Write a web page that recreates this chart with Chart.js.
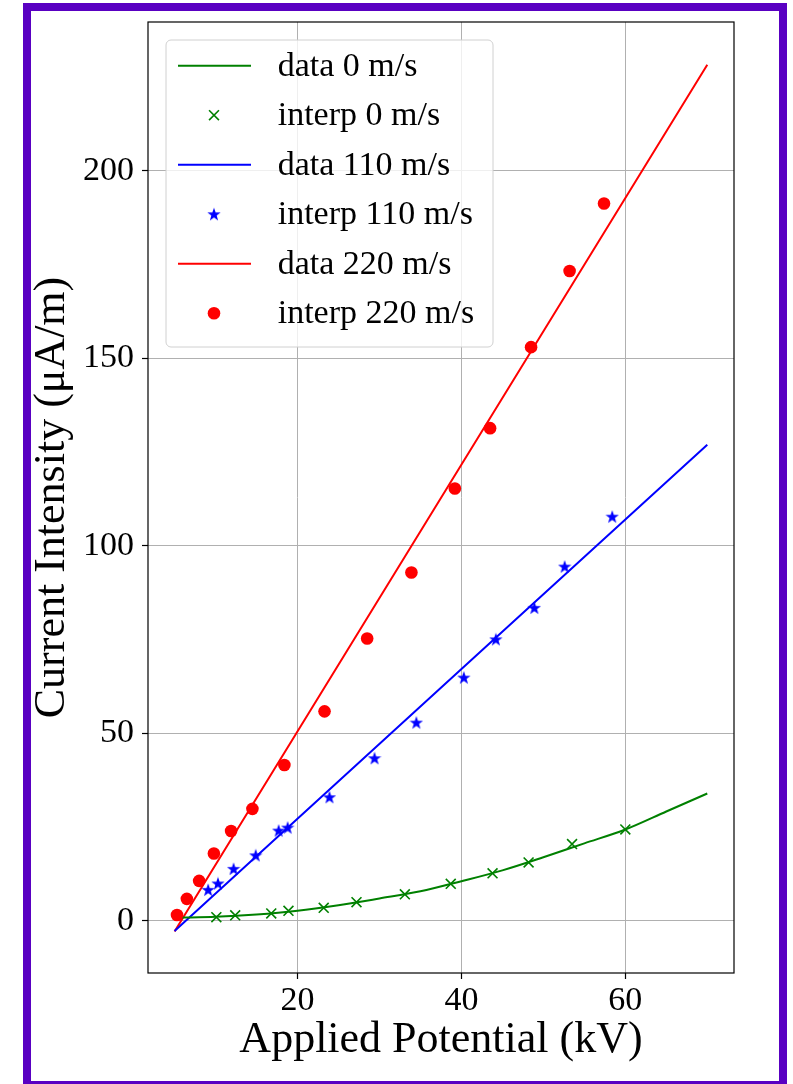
<!DOCTYPE html>
<html>
<head>
<meta charset="utf-8">
<script src="https://cdn.jsdelivr.net/npm/chart.js@4.4.1/dist/chart.umd.min.js"></script>
<style>
  html, body { margin: 0; padding: 0; background: #fff; overflow: hidden; }
  #wrap { position: absolute; left: 0; top: 0; width: 793px; height: 1084px; }
  #frame { position: absolute; left: 23px; top: 3px; width: 764px; height: 1086px;
           box-sizing: border-box; border: 8px solid #5900c2; pointer-events: none; }
</style>
</head>
<body>
<div id="wrap"><canvas id="chart"></canvas></div>
<div id="frame"></div>
<script>
// "data" curves (kV -> uA/m)
const lineX0 = [5.5, 10, 15, 20, 25, 30, 35, 40, 45, 50, 55, 60, 65, 70];
const lineY0 = [0.9, 1.1, 1.7, 2.7, 4.2, 6.0, 7.9, 10.6, 13.5, 17.0, 20.7, 24.4, 29.2, 34.0];
const lineX110 = [5, 37.5, 70];
const lineY110 = [-2.7, 62.2, 127.0];
const lineX220 = [5, 37.5, 70];
const lineY220 = [-2.8, 112.8, 228.3];

// "interp" points
const ptX0 = [10.1, 12.4, 16.8, 18.9, 23.2, 27.2, 33.1, 38.7, 43.8, 48.2, 53.5, 60.0];
const ptY0 = [1.0, 1.5, 2.0, 2.7, 3.5, 5.0, 7.1, 9.9, 12.7, 15.6, 20.5, 24.4];
const ptX110 = [9.1, 10.3, 12.2, 14.9, 17.7, 18.8, 23.9, 29.4, 34.5, 40.3, 44.2, 48.9, 52.6, 58.4];
const ptY110 = [8.3, 10.0, 13.9, 17.5, 24.1, 24.9, 33.0, 43.4, 52.9, 64.9, 75.1, 83.5, 94.5, 107.8];
const ptX220 = [5.3, 6.5, 8.0, 9.8, 11.9, 14.5, 18.4, 23.3, 28.5, 33.9, 39.2, 43.5, 48.5, 53.2, 57.4];
const ptY220 = [1.6, 5.9, 10.7, 18.0, 24.0, 29.9, 41.6, 55.9, 75.3, 92.9, 115.3, 131.4, 153.0, 173.3, 191.3];

const xTicks = [20, 40, 60];
const yTicks = [0, 50, 100, 150, 200];

const FONT = "'Liberation Serif', 'Times New Roman', serif";
const GREEN = "#008000", BLUE = "#0000ff", RED = "#ff0000";

const pairs = (xs, ys) => xs.map((x, i) => ({ x: x, y: ys[i] }));

function makeStar(size, color) {
  const c = document.createElement("canvas");
  c.width = size;
  c.height = size;
  const g = c.getContext("2d");
  const R = size / 2, r = R * 0.4;
  g.beginPath();
  for (let i = 0; i < 10; i++) {
    const a = -Math.PI / 2 + i * Math.PI / 5;
    const rad = i % 2 ? r : R;
    g.lineTo(R + rad * Math.cos(a), R + 0.5 + rad * Math.sin(a));
  }
  g.closePath();
  g.fillStyle = color;
  g.fill();
  return c;
}
const star = makeStar(14, BLUE);

const lineSet = (label, xs, ys, color, smooth) => ({
  label: label,
  data: pairs(xs, ys),
  showLine: true,
  borderColor: color,
  backgroundColor: color,
  borderWidth: 2,
  pointRadius: 0,
  cubicInterpolationMode: smooth ? "monotone" : "default",
  order: 2
});

const pointSet = (label, xs, ys, color, style, radius, bw) => ({
  label: label,
  data: pairs(xs, ys),
  showLine: false,
  borderColor: color,
  backgroundColor: color,
  pointStyle: style,
  pointRadius: radius,
  pointBorderWidth: bw,
  order: 1
});

// axes frame + matplotlib-like legend
const extras = {
  id: "extras",
  afterDraw(chart) {
    const ctx = chart.ctx;
    const a = chart.chartArea;
    ctx.save();
    ctx.strokeStyle = "#000";
    ctx.lineWidth = 1.2;
    ctx.strokeRect(a.left, a.top, a.right - a.left, a.bottom - a.top);

    ctx.beginPath();
    ctx.roundRect(166, 40, 327, 307, 5);
    ctx.fillStyle = "rgba(255,255,255,0.8)";
    ctx.fill();
    ctx.strokeStyle = "#d0d0d0";
    ctx.lineWidth = 1;
    ctx.stroke();

    ctx.font = "34px " + FONT;
    ctx.textBaseline = "middle";
    ctx.textAlign = "left";
    chart.data.datasets.forEach((ds, i) => {
      const y = 65.7 + i * 49.5;
      ctx.strokeStyle = ds.borderColor;
      ctx.fillStyle = ds.backgroundColor;
      if (ds.showLine) {
        ctx.lineWidth = ds.borderWidth;
        ctx.beginPath();
        ctx.moveTo(178, y);
        ctx.lineTo(251, y);
        ctx.stroke();
      } else {
        ctx.lineWidth = ds.pointBorderWidth;
        Chart.helpers.drawPoint(ctx, {
          pointStyle: ds.pointStyle, rotation: 0,
          radius: ds.pointRadius, borderWidth: ds.pointBorderWidth
        }, 214, y);
      }
      ctx.fillStyle = "#000";
      ctx.fillText(ds.label, 277.7, y + 1);
    });
    ctx.restore();
  }
};

new Chart(document.getElementById("chart"), {
  type: "scatter",
  plugins: [extras],
  data: {
    datasets: [
      lineSet("data 0 m/s", lineX0, lineY0, GREEN, true),
      pointSet("interp 0 m/s", ptX0, ptY0, GREEN, "crossRot", 7, 1.6),
      lineSet("data 110 m/s", lineX110, lineY110, BLUE, false),
      pointSet("interp 110 m/s", ptX110, ptY110, BLUE, star, 7, 1),
      lineSet("data 220 m/s", lineX220, lineY220, RED, false),
      pointSet("interp 220 m/s", ptX220, ptY220, RED, "circle", 6.3, 0)
    ]
  },
  options: {
    responsive: true,
    maintainAspectRatio: false,
    animation: false,
    layout: { padding: { top: 22, right: 59, left: 0, bottom: 0 } },
    plugins: { legend: { display: false }, tooltip: { enabled: false } },
    scales: {
      x: {
        type: "linear",
        min: 1.76,
        max: 73.26,
        afterBuildTicks: (s) => { s.ticks = xTicks.map((v) => ({ value: v })); },
        afterFit: (s) => { s.height = 111; s.paddingLeft = 0; s.paddingRight = 0; },
        border: { display: false },
        grid: { color: "#b0b0b0", lineWidth: 1, tickColor: "#000", tickLength: 6, tickWidth: 1.2 },
        ticks: { color: "#000", font: { family: FONT, size: 34 }, padding: 2 },
        title: {
          display: true, text: "Applied Potential (kV)", color: "#000",
          font: { family: FONT, size: 44, lineHeight: 1 }, padding: { top: 0, bottom: 22 }
        }
      },
      y: {
        type: "linear",
        min: -13.87,
        max: 239.7,
        afterBuildTicks: (s) => { s.ticks = yTicks.map((v) => ({ value: v })); },
        afterFit: (s) => { s.width = 148; s.paddingTop = 0; s.paddingBottom = 0; },
        border: { display: false },
        grid: { color: "#b0b0b0", lineWidth: 1, tickColor: "#000", tickLength: 6, tickWidth: 1.2 },
        ticks: { color: "#000", font: { family: FONT, size: 34 }, padding: 8 },
        title: {
          display: true, text: "Current Intensity (μA/m)", color: "#000",
          font: { family: FONT, size: 44, lineHeight: 1 }, padding: { top: 30, bottom: 0 }
        }
      }
    }
  }
});
</script>
</body>
</html>
